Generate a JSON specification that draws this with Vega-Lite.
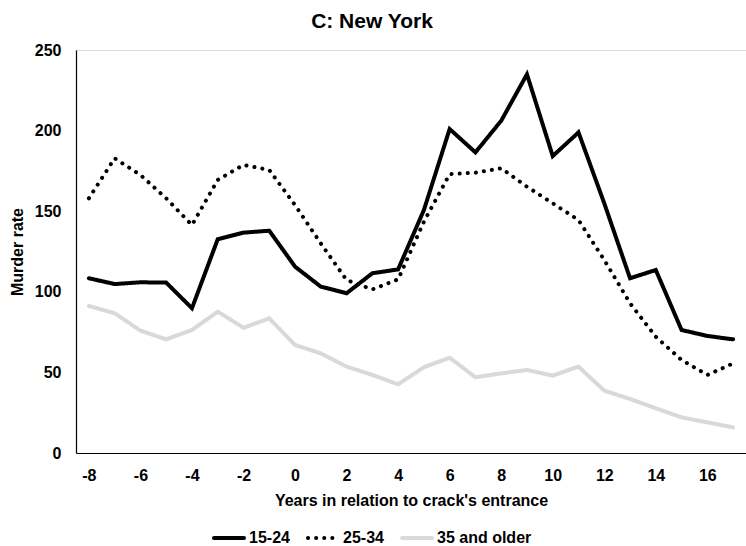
{
  "$schema": "https://vega.github.io/schema/vega-lite/v6.json",
  "width": 670,
  "height": 403,
  "autosize": {"type": "none"},
  "padding": {"left": 76, "top": 50, "right": 0, "bottom": 93},
  "background": "white",
  "title": {
    "text": "C: New York",
    "font": "Liberation Sans",
    "fontSize": 21,
    "fontWeight": "bold",
    "color": "black",
    "anchor": "middle",
    "dx": -39,
    "offset": 10
  },
  "data": {
    "values": [
      {"year": -8, "group": "15-24", "rate": 108.4},
      {"year": -7, "group": "15-24", "rate": 104.8},
      {"year": -6, "group": "15-24", "rate": 105.9},
      {"year": -5, "group": "15-24", "rate": 105.7},
      {"year": -4, "group": "15-24", "rate": 89.8},
      {"year": -3, "group": "15-24", "rate": 132.6},
      {"year": -2, "group": "15-24", "rate": 136.7},
      {"year": -1, "group": "15-24", "rate": 137.9},
      {"year": 0, "group": "15-24", "rate": 115.6},
      {"year": 1, "group": "15-24", "rate": 103.2},
      {"year": 2, "group": "15-24", "rate": 99.1},
      {"year": 3, "group": "15-24", "rate": 111.5},
      {"year": 4, "group": "15-24", "rate": 113.9},
      {"year": 5, "group": "15-24", "rate": 150.7},
      {"year": 6, "group": "15-24", "rate": 201.0},
      {"year": 7, "group": "15-24", "rate": 186.5},
      {"year": 8, "group": "15-24", "rate": 206.1},
      {"year": 9, "group": "15-24", "rate": 234.9},
      {"year": 10, "group": "15-24", "rate": 184.2},
      {"year": 11, "group": "15-24", "rate": 198.9},
      {"year": 12, "group": "15-24", "rate": 154.9},
      {"year": 13, "group": "15-24", "rate": 108.4},
      {"year": 14, "group": "15-24", "rate": 113.5},
      {"year": 15, "group": "15-24", "rate": 76.3},
      {"year": 16, "group": "15-24", "rate": 72.6},
      {"year": 17, "group": "15-24", "rate": 70.5},
      {"year": -8, "group": "25-34", "rate": 158.0},
      {"year": -7, "group": "25-34", "rate": 182.8},
      {"year": -6, "group": "25-34", "rate": 172.5},
      {"year": -5, "group": "25-34", "rate": 158.0},
      {"year": -4, "group": "25-34", "rate": 141.4},
      {"year": -3, "group": "25-34", "rate": 169.4},
      {"year": -2, "group": "25-34", "rate": 178.7},
      {"year": -1, "group": "25-34", "rate": 175.6},
      {"year": 0, "group": "25-34", "rate": 153.8},
      {"year": 1, "group": "25-34", "rate": 130.0},
      {"year": 2, "group": "25-34", "rate": 107.3},
      {"year": 3, "group": "25-34", "rate": 101.5},
      {"year": 4, "group": "25-34", "rate": 107.7},
      {"year": 5, "group": "25-34", "rate": 143.5},
      {"year": 6, "group": "25-34", "rate": 173.0},
      {"year": 7, "group": "25-34", "rate": 173.9},
      {"year": 8, "group": "25-34", "rate": 176.6},
      {"year": 9, "group": "25-34", "rate": 165.2},
      {"year": 10, "group": "25-34", "rate": 154.9},
      {"year": 11, "group": "25-34", "rate": 144.5},
      {"year": 12, "group": "25-34", "rate": 119.7},
      {"year": 13, "group": "25-34", "rate": 92.9},
      {"year": 14, "group": "25-34", "rate": 72.1},
      {"year": 15, "group": "25-34", "rate": 57.7},
      {"year": 16, "group": "25-34", "rate": 48.4},
      {"year": 17, "group": "25-34", "rate": 55.6},
      {"year": -8, "group": "35 and older", "rate": 91.2},
      {"year": -7, "group": "35 and older", "rate": 86.7},
      {"year": -6, "group": "35 and older", "rate": 75.9},
      {"year": -5, "group": "35 and older", "rate": 70.5},
      {"year": -4, "group": "35 and older", "rate": 76.3},
      {"year": -3, "group": "35 and older", "rate": 87.7},
      {"year": -2, "group": "35 and older", "rate": 77.7},
      {"year": -1, "group": "35 and older", "rate": 83.5},
      {"year": 0, "group": "35 and older", "rate": 67.0},
      {"year": 1, "group": "35 and older", "rate": 61.8},
      {"year": 2, "group": "35 and older", "rate": 53.6},
      {"year": 3, "group": "35 and older", "rate": 48.4},
      {"year": 4, "group": "35 and older", "rate": 42.6},
      {"year": 5, "group": "35 and older", "rate": 53.2},
      {"year": 6, "group": "35 and older", "rate": 59.1},
      {"year": 7, "group": "35 and older", "rate": 47.0},
      {"year": 8, "group": "35 and older", "rate": 49.4},
      {"year": 9, "group": "35 and older", "rate": 51.5},
      {"year": 10, "group": "35 and older", "rate": 48.0},
      {"year": 11, "group": "35 and older", "rate": 53.6},
      {"year": 12, "group": "35 and older", "rate": 38.7},
      {"year": 13, "group": "35 and older", "rate": 33.5},
      {"year": 14, "group": "35 and older", "rate": 27.7},
      {"year": 15, "group": "35 and older", "rate": 22.1},
      {"year": 16, "group": "35 and older", "rate": 19.0},
      {"year": 17, "group": "35 and older", "rate": 15.9}
    ]
  },
  "mark": {"type": "line", "strokeWidth": 4, "strokeCap": "round", "strokeJoin": "miter"},
  "encoding": {
    "x": {
      "field": "year",
      "type": "quantitative",
      "scale": {"domain": [-8.5, 17.5], "nice": false, "zero": false},
      "axis": {
        "values": [-8, -6, -4, -2, 0, 2, 4, 6, 8, 10, 12, 14, 16],
        "labelExpr": "'' + datum.value",
        "title": "Years in relation to crack's entrance",
        "grid": false,
        "ticks": false,
        "domainColor": "black",
        "domainWidth": 1.2,
        "labelFont": "Liberation Sans",
        "labelFontSize": 16,
        "labelFontWeight": "bold",
        "labelColor": "black",
        "labelPadding": 14,
        "labelFlush": false,
        "titleFont": "Liberation Sans",
        "titleFontSize": 16,
        "titleFontWeight": "bold",
        "titleColor": "black",
        "titlePadding": 9
      }
    },
    "y": {
      "field": "rate",
      "type": "quantitative",
      "scale": {"domain": [0, 250], "nice": false},
      "axis": {
        "values": [0, 50, 100, 150, 200, 250],
        "title": "Murder rate",
        "grid": false,
        "ticks": false,
        "domainColor": "black",
        "domainWidth": 1.2,
        "labelFont": "Liberation Sans",
        "labelFontSize": 16,
        "labelFontWeight": "bold",
        "labelColor": "black",
        "labelPadding": 15,
        "titleFont": "Liberation Sans",
        "titleFontSize": 16,
        "titleFontWeight": "bold",
        "titleColor": "black",
        "titlePadding": 9
      }
    },
    "color": {
      "field": "group",
      "type": "nominal",
      "scale": {"domain": ["15-24", "25-34", "35 and older"], "range": ["#000000", "#000000", "#d9d9d9"]},
      "legend": {
        "title": null,
        "orient": "none",
        "direction": "horizontal",
        "legendX": 136,
        "legendY": 471,
        "symbolType": "stroke",
        "symbolSize": 900,
        "symbolStrokeWidth": 4,
        "labelFont": "Liberation Sans",
        "labelFontSize": 16,
        "labelFontWeight": "bold",
        "labelColor": "black",
        "labelOffset": 3,
        "columnPadding": 10,
        "encode": {"symbols": {"update": {"strokeCap": {"value": "round"}}}}
      }
    },
    "strokeDash": {
      "field": "group",
      "type": "nominal",
      "scale": {"domain": ["15-24", "25-34", "35 and older"], "range": [[1, 0], [0.1, 8], [1, 0]]},
      "legend": {
        "title": null,
        "orient": "none",
        "direction": "horizontal",
        "legendX": 136,
        "legendY": 471,
        "symbolType": "stroke",
        "symbolSize": 900,
        "symbolStrokeWidth": 4,
        "labelFont": "Liberation Sans",
        "labelFontSize": 16,
        "labelFontWeight": "bold",
        "labelColor": "black",
        "labelOffset": 3,
        "columnPadding": 10,
        "encode": {"symbols": {"update": {"strokeCap": {"value": "round"}}}}
      }
    }
  }
}
